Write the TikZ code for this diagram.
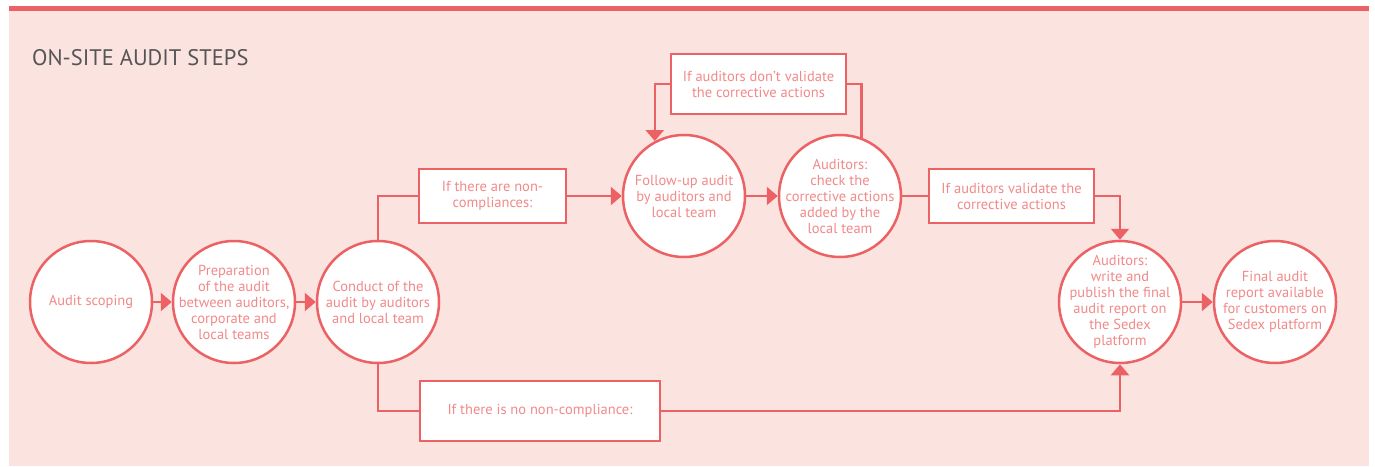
\documentclass[tikz,border=0pt]{standalone}
\usepackage{fontspec}
\setmainfont{PT Sans}
\usetikzlibrary{arrows.meta}
\definecolor{linered}{HTML}{EC6163}
\definecolor{bgpink}{HTML}{FBE3E0}
\definecolor{txtpink}{HTML}{F28A8B}
\definecolor{titlegray}{HTML}{555555}
\tikzset{
  stepcircle/.style={circle, draw=linered, line width=2.5pt, fill=white, minimum size=122pt, inner sep=0pt},
  steptext/.style={text=txtpink, align=center, inner sep=0pt, font=\fontsize{14.5}{16}\selectfont},
  condbox/.style={rectangle, draw=linered, line width=2.5pt, fill=white, inner sep=0pt,
    text=txtpink, align=center, font=\fontsize{14.5}{16}\selectfont},
  conn/.style={draw=linered, line width=2.5pt},
  arr/.style={conn, -{Triangle[length=11pt,width=18pt]}},
}
\begin{document}
\begin{tikzpicture}[x=1pt,y=-1pt]
\useasboundingbox (0,0) rectangle (1375,466);
\fill[white] (0,0) rectangle (1375,466);
\fill[bgpink] (9,9) rectangle (1369,466);
\fill[linered] (9,6) rectangle (1369,11);
\node[anchor=base west, text=titlegray, font=\fontsize{22.5}{24}\selectfont, inner sep=0pt] (title) at (32,65) {ON-SITE AUDIT STEPS};

\node[stepcircle, label={[steptext]center:{Audit scoping}}] (scope) at (91,302) {};
\node[stepcircle, label={[steptext]center:{Preparation\\of the audit\\between auditors,\\corporate and\\local teams}}] (prep) at (234,302) {};
\node[stepcircle, label={[steptext]center:{Conduct of the\\audit by auditors\\and local team}}] (cond) at (378,302) {};
\node[stepcircle, label={[steptext]center:{Follow-up audit\\by auditors and\\local team}}] (fu) at (684,196) {};
\node[stepcircle, label={[steptext]center:{Auditors:\\check the\\corrective actions\\added by the\\local team}}] (chk) at (840,196) {};
\node[stepcircle, label={[steptext]center:{Auditors:\\write and\\publish the final\\audit report on\\the Sedex\\platform}}] (wr) at (1120,302) {};
\node[stepcircle, label={[steptext]center:{Final audit\\report available\\for customers on\\Sedex platform}}] (fin) at (1275,302) {};

\node[condbox, minimum width=147pt, minimum height=54pt] (nc) at (492.5,196) {If there are non-\\compliances:};
\node[condbox, minimum width=175pt, minimum height=60pt] (dv) at (758.5,84) {If auditors don't validate\\the corrective actions};
\node[condbox, minimum width=165pt, minimum height=54pt] (val) at (1011.5,196) {If auditors validate the\\corrective actions};
\node[condbox, minimum width=240pt, minimum height=60pt] (nn) at (540,411) {If there is no non-compliance:};

\draw[arr] (scope) -- (prep);
\draw[arr] (prep) -- (cond);
\draw[conn] (cond.north) |- (nc.west);
\draw[arr] (nc.east) -- (fu.west);
\draw[arr] (fu) -- (chk);
\draw[conn] (chk.east) -- (val.west);
\draw[arr] (val.east) -| (wr.north);
\draw[conn] (chk.70) |- (dv.east);
\draw[arr] (dv.west) -| (fu.118);
\draw[conn] (cond.south) |- (nn.west);
\draw[arr] (nn.east) -| (wr.south);
\draw[arr] (wr) -- (fin);
\end{tikzpicture}
\end{document}
